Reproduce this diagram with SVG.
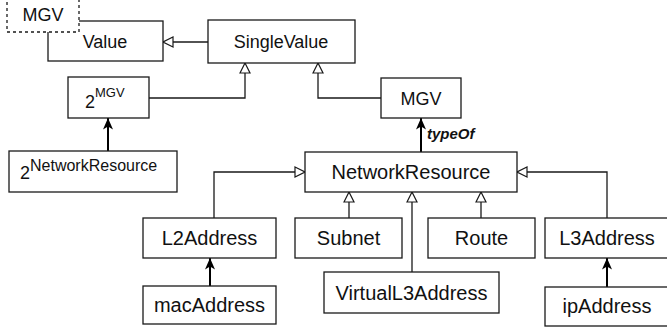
<svg xmlns="http://www.w3.org/2000/svg" width="667" height="331" viewBox="0 0 667 331">
<style>
.box{fill:#fff;stroke:#1a1a1a;stroke-width:1.3}
.dash{fill:#fff;stroke:#1a1a1a;stroke-width:1.3;stroke-dasharray:3 3}
text{font-family:"Liberation Sans",Arial,sans-serif;fill:#111}
.t18{font-size:18px;text-anchor:middle}
.t20{font-size:20px;text-anchor:middle}
.gen{fill:none;stroke:#1a1a1a;stroke-width:1.3;marker-end:url(#hollow)}
.dep{fill:none;stroke:#000;stroke-width:2;marker-end:url(#filled)}
.lbl{font-size:15px;font-weight:bold;font-style:italic}
</style>
<defs>
<marker id="hollow" markerUnits="userSpaceOnUse" viewBox="0 0 12 12" markerWidth="12" markerHeight="12" refX="11" refY="6" orient="auto">
<path d="M1,1 L11,6 L1,11 z" fill="#fff" stroke="#1a1a1a" stroke-width="1.2"/>
</marker>
<marker id="filled" markerUnits="userSpaceOnUse" viewBox="0 0 12 12" markerWidth="12" markerHeight="12" refX="11.5" refY="6" orient="auto">
<path d="M0,1 L11.5,6 L0,11 L3,6 z" fill="#000"/>
</marker>
</defs>

<g id="connectors">
<path class="gen" d="M208,42 L163,42"/>
<path class="gen" d="M149,98 L245,98 L245,63"/>
<path class="gen" d="M381,98 L318,98 L318,63"/>
<path class="dep" d="M421,152 L421,118"/>
<text class="lbl" x="427" y="139">typeOf</text>
<path class="dep" d="M108,151 L108,118"/>
<path class="gen" d="M214,218 L214,172 L305,172"/>
<path class="gen" d="M349,218 L349,192"/>
<path class="gen" d="M412,272 L412,192"/>
<path class="gen" d="M481,218 L481,192"/>
<path class="gen" d="M607,218 L607,172 L517,172"/>
<path class="dep" d="M210,286 L210,258"/>
<path class="dep" d="M607,287 L607,258"/>
</g>

<g id="Value"><rect class="box" x="48" y="21" width="115" height="40"/><text class="t18" x="105" y="48">Value</text></g>
<g id="MGVTag"><rect class="dash" x="7" y="-1" width="72" height="33"/><text class="t18" x="43" y="21">MGV</text></g>
<g id="SingleValue"><rect class="box" x="208" y="20" width="147" height="43"/><text class="t18" x="281" y="48">SingleValue</text></g>
<g id="PowerMGV"><rect class="box" x="68" y="77" width="81" height="41"/><text x="85" y="108" style="font-size:18px">2<tspan dy="-11" style="font-size:13px">MGV</tspan></text></g>
<g id="MGV"><rect class="box" x="381" y="78" width="80" height="40"/><text class="t18" x="421" y="105">MGV</text></g>
<g id="PowerNetworkResource"><rect class="box" x="9" y="151" width="168" height="41"/><text x="20" y="179" style="font-size:18px">2<tspan dy="-8" style="font-size:16px">NetworkResource</tspan></text></g>
<g id="NetworkResource"><rect class="box" x="305" y="152" width="212" height="40"/><text class="t20" x="411" y="179">NetworkResource</text></g>
<g id="L2Address"><rect class="box" x="143" y="218" width="133" height="40"/><text class="t20" x="209.5" y="245">L2Address</text></g>
<g id="macAddress"><rect class="box" x="143" y="286" width="133" height="38"/><text class="t20" x="209.5" y="312">macAddress</text></g>
<g id="Subnet"><rect class="box" x="295" y="218" width="107" height="40"/><text class="t20" x="348.5" y="245">Subnet</text></g>
<g id="VirtualL3Address"><rect class="box" x="324" y="272" width="175" height="41"/><text class="t20" x="411.5" y="300">VirtualL3Address</text></g>
<g id="Route"><rect class="box" x="428" y="218" width="107" height="40"/><text class="t20" x="481.5" y="245">Route</text></g>
<g id="L3Address"><rect class="box" x="545" y="218" width="124" height="40"/><text class="t20" x="607" y="245">L3Address</text></g>
<g id="ipAddress"><rect class="box" x="545" y="287" width="124" height="39"/><text class="t20" x="607" y="313">ipAddress</text></g>
</svg>
